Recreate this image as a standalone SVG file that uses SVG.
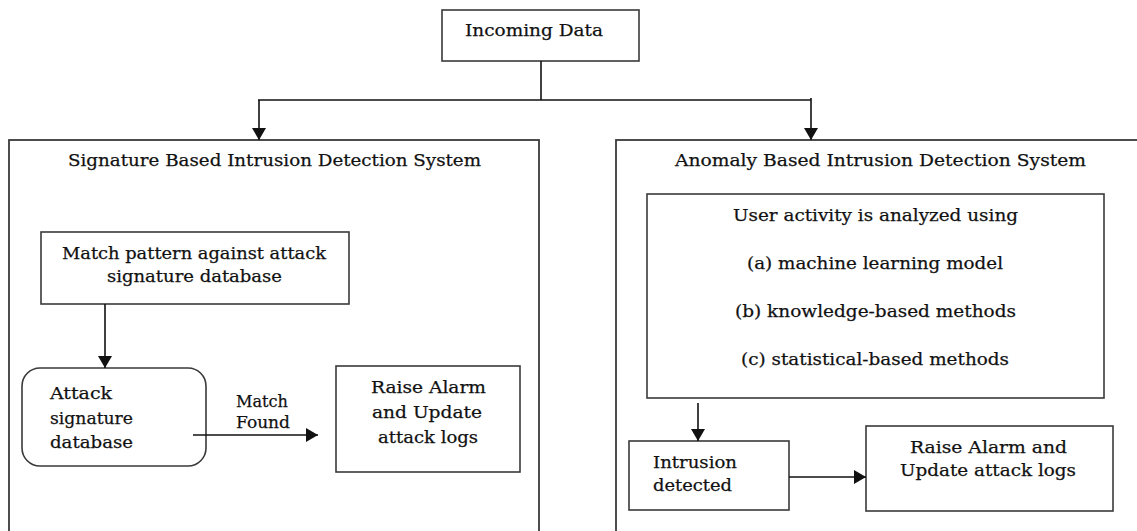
<svg xmlns="http://www.w3.org/2000/svg" width="1137" height="531" viewBox="0 0 1137 531">
<style>
.box{fill:none;stroke:#3a3a3a;stroke-width:1.6}
.panel{fill:none;stroke:#3a3a3a;stroke-width:1.8}
.conn{fill:none;stroke:#111;stroke-width:1.6}
text{font-family:"DejaVu Serif","Liberation Serif",serif;font-size:17.5px;fill:#111;stroke:#111;stroke-width:0.25}
</style>
<defs>
<marker id="ah" markerUnits="userSpaceOnUse" markerWidth="14" markerHeight="14" viewBox="0 0 12 14" refX="12" refY="7" orient="auto">
<path d="M0,0 L12,7 L0,14 z" fill="#111"/>
</marker>
</defs>
<rect width="1137" height="531" fill="#ffffff"/>

<g id="incoming">
<rect class="box" x="442" y="10" width="197" height="51"/>
<text x="465" y="36" textLength="138" lengthAdjust="spacingAndGlyphs">Incoming Data</text>
</g>

<g id="signature-panel">
<rect class="panel" x="9" y="140" width="530" height="430"/>
<text x="68" y="166" textLength="413" lengthAdjust="spacingAndGlyphs">Signature Based Intrusion Detection System</text>
</g>

<g id="anomaly-panel">
<rect class="panel" x="616" y="140" width="600" height="430"/>
<text x="675" y="166" textLength="411" lengthAdjust="spacingAndGlyphs">Anomaly Based Intrusion Detection System</text>
</g>

<g id="match-pattern">
<rect class="box" x="41" y="232" width="308" height="72"/>
<text x="62" y="259" textLength="264" lengthAdjust="spacingAndGlyphs">Match pattern against attack</text>
<text x="107" y="282" textLength="175" lengthAdjust="spacingAndGlyphs">signature database</text>
</g>

<g id="attack-db">
<rect class="box" x="22" y="368" width="184" height="98" rx="18" ry="18"/>
<text x="50" y="399" textLength="62" lengthAdjust="spacingAndGlyphs">Attack</text>
<text x="50" y="424" textLength="83" lengthAdjust="spacingAndGlyphs">signature</text>
<text x="50" y="448" textLength="83" lengthAdjust="spacingAndGlyphs">database</text>
</g>

<g id="raise-alarm-left">
<rect class="box" x="336" y="366" width="184" height="106"/>
<text x="371" y="393" textLength="115" lengthAdjust="spacingAndGlyphs">Raise Alarm</text>
<text x="372" y="418" textLength="110" lengthAdjust="spacingAndGlyphs">and Update</text>
<text x="378" y="443" textLength="100" lengthAdjust="spacingAndGlyphs">attack logs</text>
</g>

<g id="user-activity">
<rect class="box" x="647" y="194" width="457" height="204"/>
<text x="733" y="221" textLength="285" lengthAdjust="spacingAndGlyphs">User activity is analyzed using</text>
<text x="747" y="269" textLength="256" lengthAdjust="spacingAndGlyphs">(a) machine learning model</text>
<text x="735" y="317" textLength="281" lengthAdjust="spacingAndGlyphs">(b) knowledge-based methods</text>
<text x="741" y="365" textLength="268" lengthAdjust="spacingAndGlyphs">(c) statistical-based methods</text>
</g>

<g id="intrusion-detected">
<rect class="box" x="629" y="441" width="160" height="69"/>
<text x="653" y="468" textLength="84" lengthAdjust="spacingAndGlyphs">Intrusion</text>
<text x="653" y="491" textLength="79" lengthAdjust="spacingAndGlyphs">detected</text>
</g>

<g id="raise-alarm-right">
<rect class="box" x="866" y="426" width="247" height="85"/>
<text x="910" y="453" textLength="157" lengthAdjust="spacingAndGlyphs">Raise Alarm and</text>
<text x="900" y="476" textLength="176" lengthAdjust="spacingAndGlyphs">Update attack logs</text>
</g>

<g id="connectors">
<path class="conn" d="M541,61 V100"/>
<path class="conn" d="M258,100 H811"/>
<path class="conn" d="M259,100 V140" marker-end="url(#ah)"/>
<path class="conn" d="M811,98 V140" marker-end="url(#ah)"/>
<path class="conn" d="M105,304 V368" marker-end="url(#ah)"/>
<path class="conn" d="M193,435 H318" marker-end="url(#ah)"/>
<text x="236" y="407" textLength="52" lengthAdjust="spacingAndGlyphs">Match</text>
<text x="236" y="428" textLength="54" lengthAdjust="spacingAndGlyphs">Found</text>
<path class="conn" d="M698,403 V441" marker-end="url(#ah)"/>
<path class="conn" d="M789,477 H866" marker-end="url(#ah)"/>
</g>
</svg>
